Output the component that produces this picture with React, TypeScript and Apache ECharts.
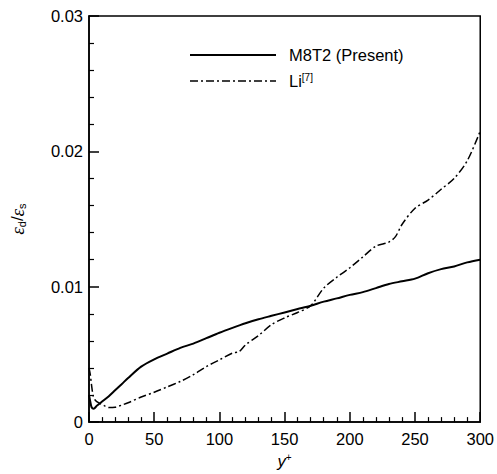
import React, { useEffect, useRef } from "react";
import * as echarts from "echarts";

const xTicks = [0, 50, 100, 150, 200, 250, 300];
const yTicks = [0, 0.01, 0.02, 0.03];

const presentX = [0, 1, 2, 3.6, 6, 9.6, 15, 20, 25, 30, 40, 50, 60, 70, 80, 90, 100, 110, 120, 130, 140, 150, 160, 170, 180, 190, 200, 210, 220, 230, 240, 250, 260, 270, 280, 290, 300];
const presentY = [0.002, 0.0015, 0.0011, 0.00099, 0.0012, 0.00148, 0.0019, 0.00235, 0.0028, 0.00326, 0.0041, 0.00464, 0.00506, 0.00548, 0.0058, 0.0062, 0.0066, 0.00696, 0.0073, 0.0076, 0.00785, 0.0081, 0.00835, 0.0086, 0.0089, 0.00914, 0.0094, 0.0096, 0.0099, 0.0102, 0.0104, 0.0106, 0.011, 0.0113, 0.0115, 0.0118, 0.012];

const liX = [0, 1, 2, 3.3, 5, 8, 12, 15.5, 20, 25, 30, 40, 50, 60, 70, 80, 90, 100, 110, 115, 120, 130, 140, 150, 160, 170, 180, 190, 200, 210, 220, 230, 235, 240, 250, 260, 270, 280, 290, 300];
const liY = [0.004, 0.0035, 0.0027, 0.0019, 0.0016, 0.0014, 0.0012, 0.00107, 0.0011, 0.00125, 0.00143, 0.00185, 0.0022, 0.0026, 0.003, 0.0035, 0.0041, 0.0046, 0.0051, 0.0052, 0.0057, 0.0064, 0.0072, 0.0077, 0.0081, 0.0086, 0.0099, 0.0107, 0.0114, 0.0122, 0.013, 0.0133, 0.0137, 0.0146, 0.0158, 0.0164, 0.0172, 0.018, 0.0193, 0.0215];

const legendNames = ["M8T2 (Present)", "Li"];

const FONT = "'Liberation Sans', Arial, sans-serif";
const LI_DASH = [8, 3, 2, 3];

export default function App() {
  const ref = useRef<HTMLDivElement>(null);
  useEffect(() => {
    if (!ref.current) return;
    const chart = echarts.init(ref.current, null, { renderer: "svg" });
    const xRange = { type: "value", min: xTicks[0], max: xTicks[xTicks.length - 1], interval: 50, splitLine: { show: false } };
    const yRange = { type: "value", min: yTicks[0], max: yTicks[yTicks.length - 1], interval: 0.01, splitLine: { show: false } };
    chart.setOption({
      animation: false,
      backgroundColor: "#fff",
      grid: {
        left: 87.5,
        right: 13,
        top: 16,
        bottom: 50.5,
        show: true,
        borderColor: "#000",
        borderWidth: 1.5,
        backgroundColor: "transparent",
      },
      xAxis: [
        {
          ...xRange,
          position: "bottom",
          axisLine: { show: true, onZero: false, lineStyle: { color: "#000", width: 1.5 } },
          axisTick: { show: false },
          minorTick: { show: false },
          axisLabel: { show: true, color: "#000", fontSize: 16.5, fontFamily: FONT, margin: 8 },
          name: "{i|y}{s|+}",
          nameLocation: "middle",
          nameGap: 29,
          nameTextStyle: {
            rich: {
              i: { fontSize: 16.5, fontStyle: "italic", fontFamily: FONT, color: "#000" },
              s: { fontSize: 10, fontFamily: FONT, color: "#000", verticalAlign: "top", padding: [0, 0, 6, 0] },
            },
          },
        },
        {
          ...xRange,
          position: "bottom",
          axisLine: { show: false },
          axisTick: { show: true, inside: true, length: 10, lineStyle: { color: "#000", width: 1.5 } },
          minorTick: { show: true, splitNumber: 5, length: 5, lineStyle: { color: "#000", width: 1.2 } },
          axisLabel: { show: false },
        },
      ],
      yAxis: [
        {
          ...yRange,
          position: "left",
          axisLine: { show: true, onZero: false, lineStyle: { color: "#000", width: 1.5 } },
          axisTick: { show: false },
          minorTick: { show: false },
          axisLabel: { show: true, color: "#000", fontSize: 16.5, fontFamily: FONT, margin: 6, formatter: (v: number) => (v === 0 ? "0" : v.toFixed(2)) },
          name: "{e|ε}{s|d}{n|/}{e|ε}{s|s}",
          nameLocation: "middle",
          nameGap: 62,
          nameRotate: 90,
          nameTextStyle: {
            rich: {
              e: { fontSize: 19, fontStyle: "italic", fontFamily: "'Liberation Serif', serif", color: "#000" },
              s: { fontSize: 11, fontFamily: FONT, color: "#000", verticalAlign: "bottom", padding: [6, 0, 0, 0] },
              n: { fontSize: 17, fontFamily: FONT, color: "#000" },
            },
          },
        },
        {
          ...yRange,
          position: "left",
          axisLine: { show: false },
          axisTick: { show: true, inside: true, length: 10, lineStyle: { color: "#000", width: 1.5 } },
          minorTick: { show: true, splitNumber: 5, length: 5, lineStyle: { color: "#000", width: 1.2 } },
          axisLabel: { show: false },
        },
      ],
      graphic: [
        { type: "line", shape: { x1: 190, y1: 55, x2: 276, y2: 55 }, style: { stroke: "#000", lineWidth: 2 } },
        { type: "text", x: 289, y: 55, style: { text: legendNames[0], fill: "#000", font: `16.5px ${FONT}`, verticalAlign: "middle" } },
        { type: "line", shape: { x1: 190, y1: 81, x2: 276, y2: 81 }, style: { stroke: "#000", lineWidth: 1.5, lineDash: LI_DASH } },
        {
          type: "text",
          x: 289,
          y: 81,
          style: {
            text: "{a|Li}{sup|[7]}",
            verticalAlign: "middle",
            rich: {
              a: { fontSize: 16.5, fontFamily: FONT, fill: "#000" },
              sup: { fontSize: 10, fontFamily: FONT, fill: "#000", verticalAlign: "top", padding: [0, 0, 8, 0] },
            },
          },
        },
      ],
      series: [
        {
          name: legendNames[0],
          type: "line",
          symbol: "none",
          smooth: 0.3,
          xAxisIndex: 0,
          yAxisIndex: 0,
          data: presentX.map((x, i) => [x, presentY[i]]),
          lineStyle: { color: "#000", width: 2, type: "solid" },
        },
        {
          name: legendNames[1],
          type: "line",
          symbol: "none",
          smooth: 0.3,
          xAxisIndex: 0,
          yAxisIndex: 0,
          data: liX.map((x, i) => [x, liY[i]]),
          lineStyle: { color: "#000", width: 1.5, type: LI_DASH },
        },
      ],
    });
    return () => chart.dispose();
  }, []);
  return <div ref={ref} style={{ width: 497, height: 474, position: "absolute", left: 0, top: 0 }} />;
}
